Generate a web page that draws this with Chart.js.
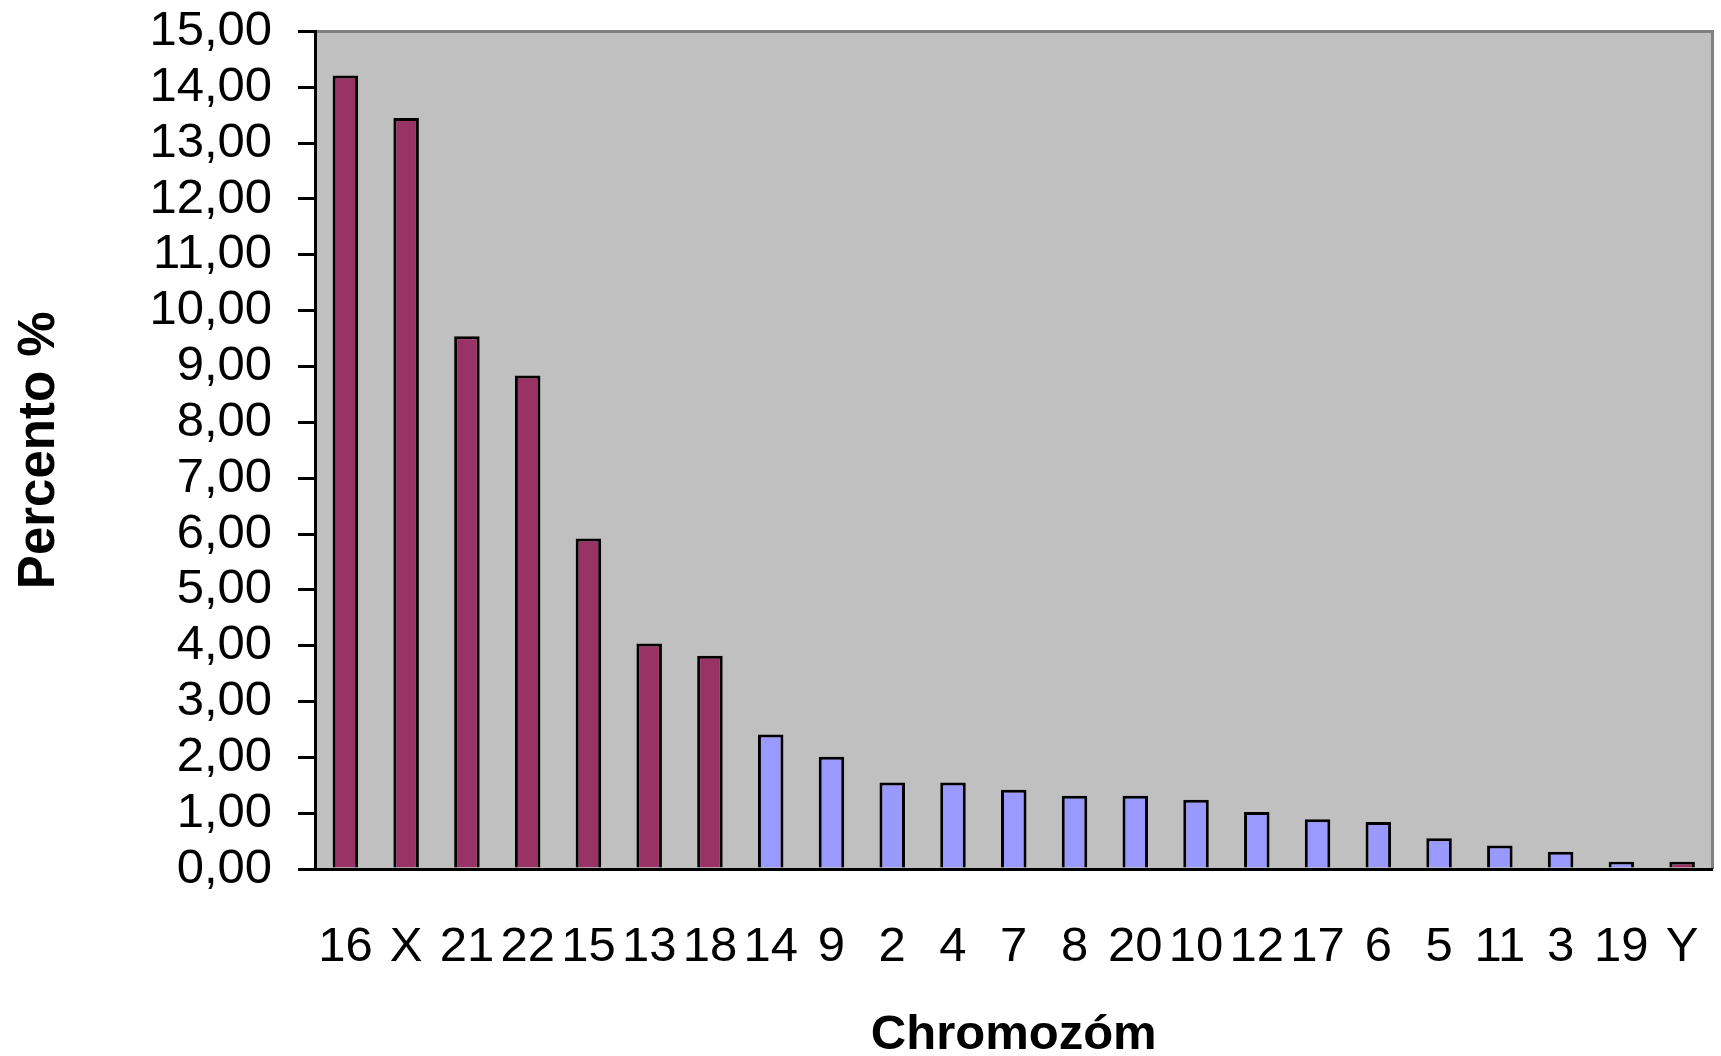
<!DOCTYPE html>
<html>
<head>
<meta charset="utf-8">
<title>Chromozóm – percento</title>
<script src="https://cdn.jsdelivr.net/npm/chart.js@4/dist/chart.umd.min.js"></script>
<style>
  html, body { margin: 0; padding: 0; background: #ffffff; }
  #wrap { width: 1721px; height: 1056px; }
</style>
</head>
<body>
<div id="wrap"><canvas id="chart" width="1721" height="1056"></canvas></div>
<script>
// Chromosomes, sorted by share (%)
const categories = ['16', 'X', '21', '22', '15', '13', '18', '14', '9', '2', '4', '7',
                    '8', '20', '10', '12', '17', '6', '5', '11', '3', '19', 'Y'];
const percent = [14.21, 13.45, 9.54, 8.84, 5.92, 4.04, 3.82, 2.41, 2.01, 1.55, 1.55, 1.42,
                 1.31, 1.31, 1.24, 1.02, 0.89, 0.84, 0.55, 0.42, 0.31, 0.13, 0.13];
// Chromosomes drawn in the dark group colour
const groupA = ['16', 'X', '21', '22', '15', '13', '18', 'Y'];

const yMin = 0, yMax = 15, yStep = 1;
const xTitle = 'Chromozóm';
const yTitle = 'Percento %';

const FONT = "'Liberation Sans', Arial, Helvetica, sans-serif";
const COLOR_A = '#993366';
const COLOR_B = '#9999FF';

// Grey plot area with a darker frame on the top and right edges
const plotBackground = {
  id: 'plotBackground',
  beforeDraw(chart) {
    const { ctx, chartArea: a } = chart;
    ctx.save();
    ctx.fillStyle = '#C0C0C0';
    ctx.fillRect(a.left, a.top, a.right - a.left, a.bottom - a.top);
    ctx.strokeStyle = '#808080';
    ctx.lineWidth = 3;
    ctx.beginPath();
    ctx.moveTo(a.left, a.top);
    ctx.lineTo(a.right, a.top);
    ctx.lineTo(a.right, a.bottom);
    ctx.stroke();
    ctx.restore();
  }
};

new Chart(document.getElementById('chart'), {
  type: 'bar',
  data: {
    labels: categories,
    datasets: [{
      data: percent,
      backgroundColor: categories.map(c => groupA.includes(c) ? COLOR_A : COLOR_B),
      borderColor: '#000000',
      borderWidth: 3,
      borderSkipped: 'start',
      barPercentage: 0.42,
      categoryPercentage: 1.0
    }]
  },
  options: {
    responsive: false,
    animation: false,
    devicePixelRatio: 1,
    layout: { padding: { top: 31.5, right: 8.5, bottom: 0, left: 0 } },
    plugins: {
      legend: { display: false },
      tooltip: { enabled: false }
    },
    scales: {
      x: {
        z: 1,
        grid: { display: false, drawTicks: false, tickLength: 0 },
        border: { display: true, color: '#000000', width: 3 },
        ticks: {
          color: '#000000',
          font: { family: FONT, size: 49, lineHeight: 1 },
          padding: 54,
          autoSkip: false,
          maxRotation: 0,
          minRotation: 0
        },
        title: {
          display: true,
          text: xTitle,
          color: '#000000',
          font: { family: FONT, size: 49, weight: 'bold', lineHeight: 1 },
          padding: { top: 0, bottom: -4 }
        },
        afterFit(scale) {
          scale.height = 187;
          scale.paddingLeft = 0;
          scale.paddingRight = 0;
        }
      },
      y: {
        min: yMin,
        max: yMax,
        grid: {
          drawOnChartArea: false,
          drawTicks: true,
          tickLength: 17,
          color: '#000000',
          lineWidth: 3
        },
        border: { display: true, color: '#000000', width: 3 },
        ticks: {
          stepSize: yStep,
          color: '#000000',
          font: { family: FONT, size: 49, lineHeight: 1 },
          padding: 26,
          callback: v => Number(v).toFixed(2).replace('.', ',')
        },
        title: {
          display: true,
          text: yTitle,
          color: '#000000',
          font: { family: FONT, size: 51, weight: 'bold', lineHeight: 1 },
          padding: { top: 14, bottom: 0 }
        },
        afterFit(scale) {
          scale.width = 315;
          scale.paddingTop = 0;
          scale.paddingBottom = 0;
        }
      }
    }
  },
  plugins: [plotBackground]
});
</script>
</body>
</html>
